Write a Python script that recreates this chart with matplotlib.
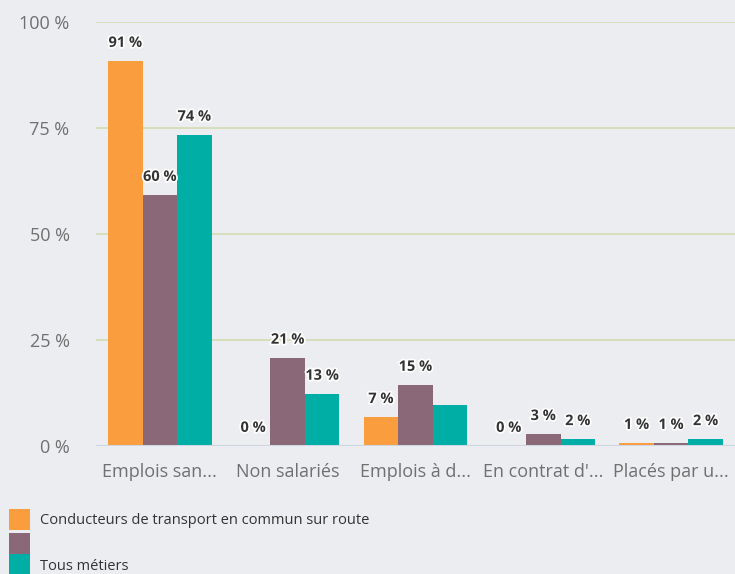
import matplotlib.pyplot as plt
import matplotlib.patheffects as pe
from matplotlib.patches import Rectangle
import numpy as np

categories = ['Emplois san...', 'Non salariés', 'Emplois à d...', "En contrat d'...", 'Placés par u...']
series_names = ['Conducteurs de transport en commun sur route', '', 'Tous métiers']
conducteurs = [90.8, 0.0, 6.8, 0.0, 0.7]
autre = [59.2, 20.8, 14.4, 2.8, 0.7]
tous = [73.4, 12.3, 9.7, 1.6, 1.6]
labels_conducteurs = ['91 %', '0 %', '7 %', '0 %', '1 %']
labels_autre = ['60 %', '21 %', '15 %', '3 %', '1 %']
labels_tous = ['74 %', '13 %', '', '2 %', '2 %']
yticks = [0, 25, 50, 75, 100]

colors = ['#f99d3e', '#8a6878', '#00aea6']
bg = '#ecedf0'

plt.rcParams['font.family'] = ['Open Sans', 'DejaVu Sans']

fig = plt.figure(figsize=(7.35, 5.74), dpi=100)
fig.patch.set_facecolor(bg)
ax = fig.add_axes([96 / 735, 128 / 574, 639 / 735, 424 / 574])
ax.set_facecolor(bg)

x = np.arange(len(categories))
w = 0.27
series = [conducteurs, autre, tous]
labels = [labels_conducteurs, labels_autre, labels_tous]
for i, (vals, labs) in enumerate(zip(series, labels)):
    xs = x + (i - 1) * w
    ax.bar(xs, vals, width=w, color=colors[i], zorder=3)
    for xi, v, lab in zip(xs, vals, labs):
        if lab:
            ax.annotate(lab, (xi, v), xytext=(0, 8), textcoords='offset points',
                        ha='center', va='bottom', fontsize=10.5, fontweight='bold',
                        color='#333333', zorder=5,
                        path_effects=[pe.withStroke(linewidth=2.5, foreground='white')])

ax.set_xlim(-0.5, len(categories) - 0.5)
ax.set_ylim(0, 100)
ax.set_yticks(yticks)
ax.set_yticklabels([f'{t} %' for t in yticks])
ax.set_xticks(x)
ax.set_xticklabels(categories)
ax.tick_params(axis='both', length=0, labelsize=13, labelcolor='#707070')
ax.tick_params(axis='y', pad=19)
ax.tick_params(axis='x', pad=12)
ax.grid(axis='y', color='#d2ddb2', linewidth=1.2, zorder=0)
ax.axhline(0, color='#cdd6e2', linewidth=1.5, zorder=4)
for s in ax.spines.values():
    s.set_visible(False)

# legend
box_y = [509, 533, 554]
box_h = [21, 21, 20]
for i, name in enumerate(series_names):
    fig.add_artist(Rectangle((9 / 735, 1 - (box_y[i] + box_h[i]) / 574), 21 / 735, box_h[i] / 574,
                             transform=fig.transFigure, color=colors[i], lw=0))
fig.text(40 / 735, 1 - 521 / 574, series_names[0], fontsize=10.5, color='#333333', va='center')
fig.text(40 / 735, 1 - 566 / 574, series_names[2], fontsize=10.5, color='#333333', va='center')

fig.savefig('out.png', dpi=100, facecolor=bg)
